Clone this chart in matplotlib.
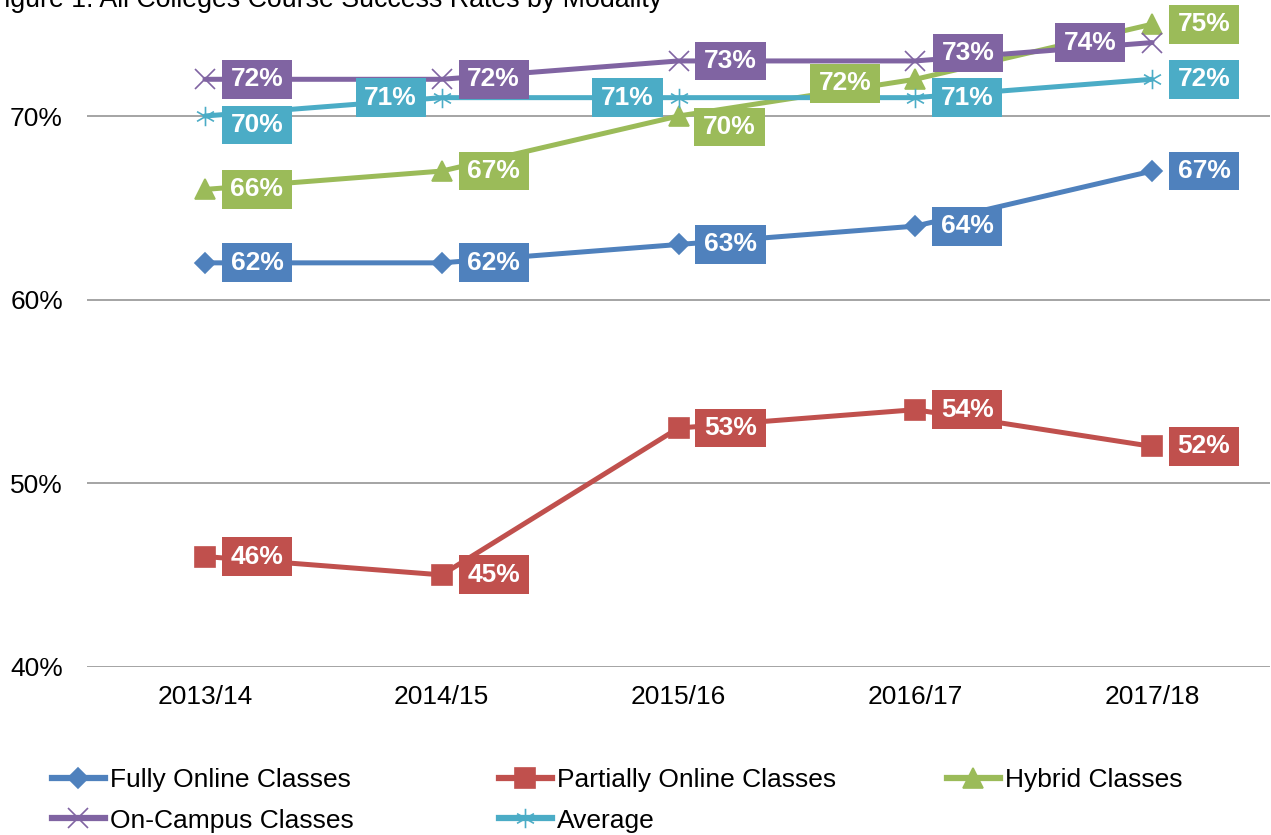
import matplotlib.pyplot as plt
from matplotlib.path import Path
from matplotlib.lines import Line2D
from matplotlib.ticker import FuncFormatter

plt.rcParams['font.family'] = ['Liberation Sans', 'DejaVu Sans']

# dados
years = ['2013/14', '2014/15', '2015/16', '2016/17', '2017/18']
fully_online = [62, 62, 63, 64, 67]
partially_online = [46, 45, 53, 54, 52]
hybrid = [66, 67, 70, 72, 75]
on_campus = [72, 72, 73, 73, 74]
average = [70, 71, 71, 71, 72]

title = 'Figure 1. All Colleges Course Success Rates by Modality'

# marcador asterisco (linha vertical + duas diagonais)
asterisk = Path([(0, 1), (0, -1), (-0.87, 0.5), (0.87, -0.5), (-0.87, -0.5), (0.87, 0.5)],
                [Path.MOVETO, Path.LINETO, Path.MOVETO, Path.LINETO, Path.MOVETO, Path.LINETO])

series = [
    ('Fully Online Classes', fully_online, '#4F81BD', 'D', 10.5),
    ('Partially Online Classes', partially_online, '#C0504D', 's', 14),
    ('Hybrid Classes', hybrid, '#9BBB59', '^', 14),
    ('On-Campus Classes', on_campus, '#8064A2', 'x', 14),
    ('Average', average, '#4BACC6', asterisk, 14),
]

# deslocamento dos rotulos (pixels, x para a direita, y para cima)
default_offset = (52, 0)
label_offsets = {
    ('Hybrid Classes', 2): (51, -11),
    ('Hybrid Classes', 3): (-70, -4),
    ('On-Campus Classes', 3): (53, 8),
    ('On-Campus Classes', 4): (-62, 0),
    ('Average', 0): (52, -9),
    ('Average', 1): (-51, 0),
    ('Average', 2): (-51, 0),
}


def label_box(x0, y0, width, height, mutation_size):
    padx = 0.33 * mutation_size
    pady = 0.28 * mutation_size
    x0, y0 = x0 - padx, y0 - pady
    x1, y1 = x0 + width + 2 * padx, y0 + height + 2 * pady
    return Path([(x0, y0), (x1, y0), (x1, y1), (x0, y1), (x0, y0)], closed=True)


fig = plt.figure(figsize=(12.71, 8.35), dpi=100)
ax = fig.add_axes([86.6 / 1271, 0.2016, 1183.8 / 1271, 0.7984])

x = list(range(len(years)))
handles = {}
for name, values, color, marker, ms in series:
    line, = ax.plot(x, values, color=color, lw=3.6, marker=marker, markersize=ms,
                    markeredgewidth=1.2, markeredgecolor=color, markerfacecolor=color,
                    solid_capstyle='round', zorder=3, clip_on=False)
    handles[name] = line

for name, values, color, marker, ms in series:
    for i, v in enumerate(values):
        dx, dy = label_offsets.get((name, i), default_offset)
        ax.annotate('%d%%' % v, (x[i], v), xytext=(dx, dy), textcoords='offset pixels',
                    ha='center', va='center', fontsize=19, fontweight='bold', color='white',
                    bbox=dict(boxstyle=label_box, fc=color, ec='none'),
                    zorder=5, annotation_clip=False)

ax.set_xlim(-0.5, 4.5)
ax.set_ylim(40, 76.32)
ax.set_yticks([40, 50, 60, 70])
ax.yaxis.set_major_formatter(FuncFormatter(lambda v, p: '%d%%' % v))
ax.set_xticks(x)
ax.set_xticklabels(years)
ax.tick_params(axis='both', length=0, labelsize=19)
ax.tick_params(axis='y', pad=17)
ax.tick_params(axis='x', pad=13)
ax.grid(axis='y', color='#8C8C8C', lw=1.1)
ax.set_axisbelow(True)
for s in ax.spines.values():
    s.set_visible(False)

fig.text(662 / 1271, 1 - 7 / 835, title, ha='right', va='baseline', fontsize=19.3)


def legend_handle(name):
    h = handles[name]
    return Line2D([], [], color=h.get_color(), lw=4.5, marker=h.get_marker(),
                  markersize=h.get_markersize(), markeredgewidth=1.2,
                  markeredgecolor=h.get_color(), markerfacecolor=h.get_color())


columns = [
    (['Fully Online Classes', 'On-Campus Classes'], 52, 800.5),
    (['Partially Online Classes', 'Average'], 499, 800.5),
    (['Hybrid Classes'], 947, 780.5),
]
for names, px, py in columns:
    fig.legend([legend_handle(n) for n in names], names, loc='center left',
               bbox_to_anchor=(px / 1271, 1 - py / 835), frameon=False, fontsize=19,
               borderpad=0, borderaxespad=0, handlelength=2.0, handletextpad=0.2,
               labelspacing=0.62)

fig.savefig('out.png', dpi=100)
